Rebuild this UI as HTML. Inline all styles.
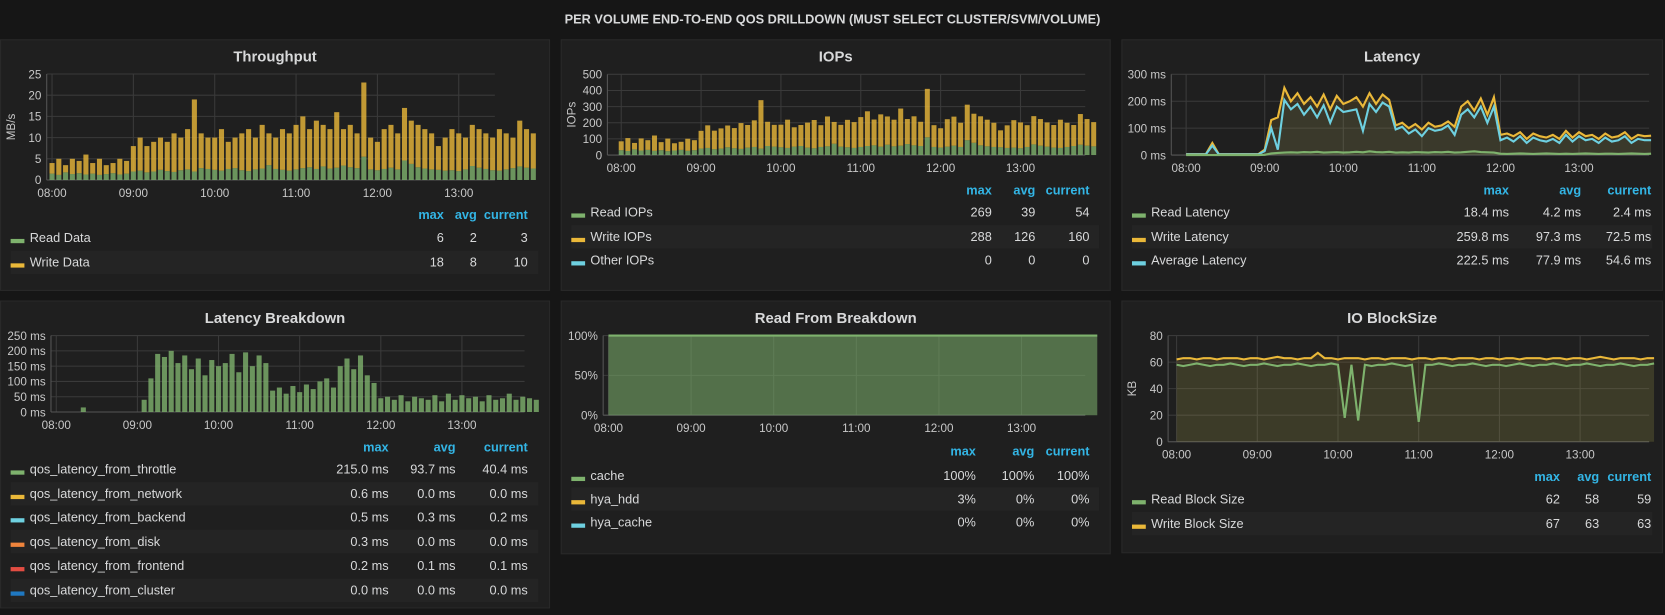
<!DOCTYPE html>
<html><head><meta charset="utf-8">
<style>
body{margin:0;width:1665px;height:614px;background:#161616;font-family:"Liberation Sans",sans-serif;color:#d8d9da;overflow:hidden;position:relative}
#wrap{position:absolute;left:0;top:0;width:1568px;height:579px;transform:scale(1.0619);transform-origin:0 0}
.panel{position:absolute;background:#1f1f1f;border:1px solid #292929;box-sizing:border-box}
.ptitle{position:absolute;left:0;right:0;top:7px;text-align:center;font-weight:bold;font-size:14px;color:#d8d9da}
.main-title{position:absolute;left:0;width:1568px;top:11px;text-align:center;font-weight:bold;font-size:12px;color:#d8d9da}
#charts{position:absolute;left:0;top:0}
.lg{position:absolute;font-size:12px;white-space:nowrap}
.hd{color:#33b5e5;font-weight:bold}
.row{position:absolute;height:22px}
.alt{background:#242424}
.mk{position:absolute;width:13px;height:4px}
</style></head><body>
<div id="wrap">
<div class="main-title">PER VOLUME END-TO-END QOS DRILLDOWN (MUST SELECT CLUSTER/SVM/VOLUME)</div>
<div class="panel" style="left:0;top:37px;width:518px;height:237px"><div class="ptitle">Throughput</div></div>
<div class="panel" style="left:528px;top:37px;width:518px;height:237px"><div class="ptitle">IOPs</div></div>
<div class="panel" style="left:1056px;top:37px;width:510px;height:237px"><div class="ptitle">Latency</div></div>
<div class="panel" style="left:0;top:283px;width:518px;height:290px"><div class="ptitle">Latency Breakdown</div></div>
<div class="panel" style="left:528px;top:283px;width:518px;height:239px"><div class="ptitle">Read From Breakdown</div></div>
<div class="panel" style="left:1056px;top:283px;width:510px;height:238px"><div class="ptitle">IO BlockSize</div></div>
<svg id="charts" width="1568" height="579" xmlns="http://www.w3.org/2000/svg"></svg>
<div id="legends"></div>
</div>
<script>
// ---- data (5-minute samples starting 08:00) ----
const hourLabels = ["08:00","09:00","10:00","11:00","12:00","13:00"];
const tpRead = [1.5,1.2,1.8,1.4,1.6,1.3,1.5,1.2,1.4,1.6,1.3,1.5,2,2.2,1.8,2,2.4,2.1,1.9,2.3,2.5,2,2.8,2.6,2.4,2.2,2.6,2.8,2.3,2.1,2.5,2.7,3.5,2.6,2.4,2.2,2.5,2.8,3,2.6,3.2,2.7,2.9,3.4,3,2.8,5.5,2.5,2.3,2.6,2.9,2.5,4.6,3.8,3,2.7,2.5,2.4,2.2,2.3,2.1,2.5,3.3,2.9,2.6,2.3,2.2,2.5,2.8,3.2,2.9,2.7];
const tpWrite = [2.5,3.8,1.7,3.6,2.9,4.7,2.5,3.8,2.1,2.4,3.7,3,6,7.8,6.2,7,7.6,6.9,9.1,7.7,9.5,17,8.2,7.4,7.6,9.8,6.4,7.2,8.7,9.9,7.5,10.3,7.5,7.4,9.6,8.8,10.5,12.2,9,11.4,9.8,9.3,13.1,8.6,10,8.2,17.5,7.5,6.7,9.4,10.1,8.5,12.4,10.2,10,9.3,8.5,5.6,7.8,9.7,8.9,7.5,9.7,9.1,8.4,7.7,9.8,8.5,7.2,10.8,9.1,8.3];
const iopsRead = [30,25,35,28,32,26,30,24,28,32,26,30,40,44,36,40,48,42,38,46,50,40,56,52,48,44,52,56,46,42,50,54,70,52,48,44,50,56,60,52,64,54,58,68,60,56,110,50,46,52,58,50,92,76,60,54,50,48,44,46,42,50,66,58,52,46,44,50,56,64,58,54];
const iopsWrite = [55,80,40,75,60,95,50,78,45,50,75,62,110,140,115,125,135,125,160,140,165,300,150,135,140,175,120,130,155,175,135,185,135,135,170,160,185,215,160,200,175,165,230,155,180,150,300,135,120,170,180,150,220,180,180,165,150,105,140,170,160,135,175,165,150,140,175,150,130,190,165,150];
const latRead = [0,0,0,0,0,0,0,0,0,0,0,0,1,6,8,9,10,9,11,10,12,9,10,11,9,10,12,10,14,11,10,12,9,10,9,11,10,9,11,10,12,9,10,12,14,11,10,9,5,4,5,6,5,4,5,6,5,4,5,4,5,6,5,4,5,5,4,5,6,5,4,5];
const latWrite = [3,3,3,3,45,3,3,3,3,3,3,3,20,130,140,250,200,230,190,215,180,225,170,220,190,200,215,180,230,190,225,205,110,120,100,115,95,120,105,110,125,105,180,200,165,210,150,215,75,80,70,85,60,80,70,65,75,60,90,65,85,70,75,60,80,65,70,85,60,75,70,72];
const latAvg = [2,2,2,2,35,2,2,2,2,2,2,2,15,100,20,205,170,190,150,180,140,185,120,180,160,165,170,90,190,160,195,180,95,105,80,95,70,100,90,95,110,75,150,170,140,180,120,180,55,65,50,70,45,65,55,50,60,45,75,50,70,55,60,45,65,50,55,70,45,60,55,55];
const lbThrottle = [0,0,0,0,15,0,0,0,0,0,0,0,0,40,110,190,180,200,160,185,140,175,120,170,150,160,190,130,195,150,185,160,70,80,60,85,65,90,75,100,110,80,150,175,140,185,120,95,45,50,40,55,35,50,45,40,55,35,60,40,55,45,50,35,55,40,45,60,40,50,45,40];
const rfCache = [100,100,100,100,100,100,100,100,100,100,100,100,100,100,100,100,100,100,100,100,100,100,100,100,100,100,100,100,100,100,100,100,100,100,100,100,100,100,100,100,100,100,100,100,100,100,100,100,100,100,100,100,100,100,100,100,100,100,100,100,100,100,100,100,100,100,100,100,100,100,100,100];
const bsRead = [58,57,58,59,58,57,58,58,59,58,57,58,58,59,58,57,58,58,59,58,57,58,58,59,58,18,58,16,58,57,58,58,59,58,57,58,15,58,58,59,58,57,58,58,59,58,57,58,58,57,58,59,58,57,58,58,59,58,57,58,58,59,58,57,58,58,59,58,57,58,58,59];
const bsWrite = [62,63,63,62,63,63,62,63,63,63,62,63,63,62,63,64,63,63,62,63,63,67,63,63,62,63,63,63,62,63,63,62,63,63,63,62,63,63,62,63,63,62,63,63,63,62,63,63,62,63,63,62,63,63,63,62,63,63,62,63,63,62,63,64,63,62,63,63,63,62,63,63];

const NS="http://www.w3.org/2000/svg";
const svg=document.getElementById('charts');
function mk(tag,attrs,parent){const e=document.createElementNS(NS,tag);for(const k in attrs)e.setAttribute(k,attrs[k]);(parent||svg).appendChild(e);return e;}

function chart(c){
  const g=mk('g',{});
  
  
  const xs=i=>c.x08+(i*5/60)*c.pph;
  const ys=v=>c.y0-v*(c.y0-c.yTop)/c.max;
  c.ticks.forEach((t,k)=>{const y=ys(t);
    mk('line',{x1:c.l,x2:c.r,y1:y,y2:y,stroke:'#3a3a3a','stroke-width':1},g);
    const tx=mk('text',{x:c.l-5,y:y+4,'text-anchor':'end','font-size':11,fill:'#c8c8c8','font-family':'Liberation Sans'},g);
    tx.textContent=c.tickLabels[k];
  });
  hourLabels.forEach((h,k)=>{const x=c.x08+k*c.pph;
    mk('line',{x1:x,x2:x,y1:c.yTop,y2:c.y0,stroke:'#3a3a3a'},g);
    const tx=mk('text',{x:x,y:c.y0+16,'text-anchor':'middle','font-size':11,fill:'#c8c8c8','font-family':'Liberation Sans'},g);
    tx.textContent=h;
  });
  mk('line',{x1:c.l,x2:c.l,y1:c.yTop,y2:c.y0,stroke:'#555'},g);
  mk('line',{x1:c.l,x2:c.r,y1:c.y0,y2:c.y0,stroke:'#555'},g);
  if(c.ylabel){const t=mk('text',{x:0,y:0,transform:`translate(${c.l-30},${(c.yTop+c.y0)/2}) rotate(-90)`,'text-anchor':'middle','font-size':11,fill:'#c8c8c8','font-family':'Liberation Sans'},g);t.textContent=c.ylabel;}
  c.series.forEach(s=>{
    const base=s.stackOn||null;
    if(s.type==='bar'){
      const w=c.pph/12*0.75;
      s.data.forEach((v,i)=>{const b=base?base[i]:0;
        const r=mk('rect',{x:xs(i)-w/2,y:ys(b+v),width:w,height:Math.max(0,ys(b)-ys(b+v)),fill:s.color,'fill-opacity':0.8},g);
        
        
      });
    } else {
      const pts=s.data.map((v,i)=>[xs(i),ys(v)]);
      if(s.fill){const d='M'+pts[0][0]+','+c.y0+' L'+pts.map(p=>p.join(',')).join(' L')+' L'+pts[pts.length-1][0]+','+c.y0+'Z';
        mk('path',{d:d,fill:s.color,'fill-opacity':s.fill},g);}
      const p=mk('path',{d:'M'+pts.map(p=>p.join(',')).join(' L'),fill:'none',stroke:s.color,'stroke-width':2},g);
      
      
    }
  });
}
const G='#7eb26d',Y='#eab839',C='#6ed0e0',O='#ef843c',R='#e24d42',B='#1f78c1';
chart({name:'throughput-chart',l:44,r:466,x08:49,pph:76.6,y0:169.5,yTop:69.7,max:25,ticks:[0,5,10,15,20,25],tickLabels:['0','5','10','15','20','25'],ylabel:'MB/s',
  series:[{key:'read-data',type:'bar',data:tpRead,color:G},{key:'write-data',type:'bar',data:tpWrite,stackOn:tpRead,color:Y}]});
chart({name:'iops-chart',l:572,r:1022,x08:585,pph:75.2,y0:146,yTop:70,max:500,ticks:[0,100,200,300,400,500],tickLabels:['0','100','200','300','400','500'],ylabel:'IOPs',
  series:[{key:'read-iops',type:'bar',data:iopsRead,color:G},{key:'write-iops',type:'bar',data:iopsWrite,stackOn:iopsRead,color:Y}]});
chart({name:'latency-chart',l:1103,r:1553,x08:1117,pph:74,y0:146,yTop:70,max:300,ticks:[0,100,200,300],tickLabels:['0 ms','100 ms','200 ms','300 ms'],
  series:[{key:'write-latency',type:'line',data:latWrite,color:Y,fill:0.12},{key:'average-latency',type:'line',data:latAvg,color:C,fill:0.05},{key:'read-latency',type:'line',data:latRead,color:G,fill:0.1}]});
chart({name:'latency-breakdown-chart',l:48,r:494,x08:53,pph:76.4,y0:388,yTop:316,max:250,ticks:[0,50,100,150,200,250],tickLabels:['0 ms','50 ms','100 ms','150 ms','200 ms','250 ms'],
  series:[{key:'throttle',type:'bar',data:lbThrottle,color:G}]});
chart({name:'read-from-chart',l:568,r:1022,x08:573,pph:77.8,y0:391,yTop:316,max:100,ticks:[0,50,100],tickLabels:['0%','50%','100%'],
  series:[{key:'cache',type:'line',data:rfCache,color:G,fill:0.55}]});
chart({name:'io-blocksize-chart',l:1100,r:1553,x08:1108,pph:76,y0:416,yTop:316,max:80,ticks:[0,20,40,60,80],tickLabels:['0','20','40','60','80'],ylabel:'KB',
  series:[{key:'write-block-size',type:'line',data:bsWrite,color:Y,fill:0.12},{key:'read-block-size',type:'line',data:bsRead,color:G,fill:0.08}]});

const L=document.getElementById('legends');
function legend(cfg){
  ['max','avg','current'].forEach((t,k)=>{const s=document.createElement('div');s.className='lg hd';s.style.top=cfg.hy+'px';s.style.left=(cfg.cols[k]-80)+'px';s.style.width='80px';s.style.textAlign='right';s.textContent=t;
    
    
    L.appendChild(s);});
  cfg.rows.forEach((r,i)=>{
    const y=cfg.ry+i*cfg.step;
    const d=document.createElement('div');d.className='row'+(i%2?' alt':'');
    d.style.left=cfg.x0+'px';d.style.width=(cfg.x1-cfg.x0)+'px';d.style.top=(y-11)+'px';
    
    
    L.appendChild(d);
    const m=document.createElement('div');m.className='mk';m.style.background=r[1];m.style.left=(cfg.x0)+'px';m.style.top=(y+1)+'px';L.appendChild(m);
    const t=document.createElement('div');t.className='lg';t.style.left=(cfg.x0+18)+'px';t.style.top=(y-7)+'px';t.textContent=r[0];L.appendChild(t);
    [2,3,4].forEach((c,k)=>{const v=document.createElement('div');v.className='lg';v.style.left=(cfg.cols[k]-90)+'px';v.style.width='90px';v.style.textAlign='right';v.style.top=(y-7)+'px';v.textContent=r[c];L.appendChild(v);});
  });
}
legend({hy:195,ry:224,step:22.6,x0:10,x1:507,cols:[418,449,497],rows:[['Read Data',G,'6','2','3'],['Write Data',Y,'18','8','10']]});
legend({hy:172,ry:200,step:22.5,x0:538,x1:1035,cols:[934,975,1026],rows:[['Read IOPs',G,'269','39','54'],['Write IOPs',Y,'288','126','160'],['Other IOPs',C,'0','0','0']]});
legend({hy:172,ry:200,step:22.5,x0:1066,x1:1556,cols:[1421,1489,1555],rows:[['Read Latency',G,'18.4 ms','4.2 ms','2.4 ms'],['Write Latency',Y,'259.8 ms','97.3 ms','72.5 ms'],['Average Latency',C,'222.5 ms','77.9 ms','54.6 ms']]});
legend({hy:414,ry:442,step:22.7,x0:10,x1:507,cols:[366,429,497],rows:[['qos_latency_from_throttle',G,'215.0 ms','93.7 ms','40.4 ms'],['qos_latency_from_network',Y,'0.6 ms','0.0 ms','0.0 ms'],['qos_latency_from_backend',C,'0.5 ms','0.3 ms','0.2 ms'],['qos_latency_from_disk',O,'0.3 ms','0.0 ms','0.0 ms'],['qos_latency_from_frontend',R,'0.2 ms','0.1 ms','0.1 ms'],['qos_latency_from_cluster',B,'0.0 ms','0.0 ms','0.0 ms']]});
legend({hy:418,ry:448,step:22,x0:538,x1:1035,cols:[919,974,1026],rows:[['cache',G,'100%','100%','100%'],['hya_hdd',Y,'3%','0%','0%'],['hya_cache',C,'0%','0%','0%']]});
legend({hy:442,ry:470,step:23,x0:1066,x1:1556,cols:[1469,1506,1555],rows:[['Read Block Size',G,'62','58','59'],['Write Block Size',Y,'67','63','63']]});
</script>
</body></html>
